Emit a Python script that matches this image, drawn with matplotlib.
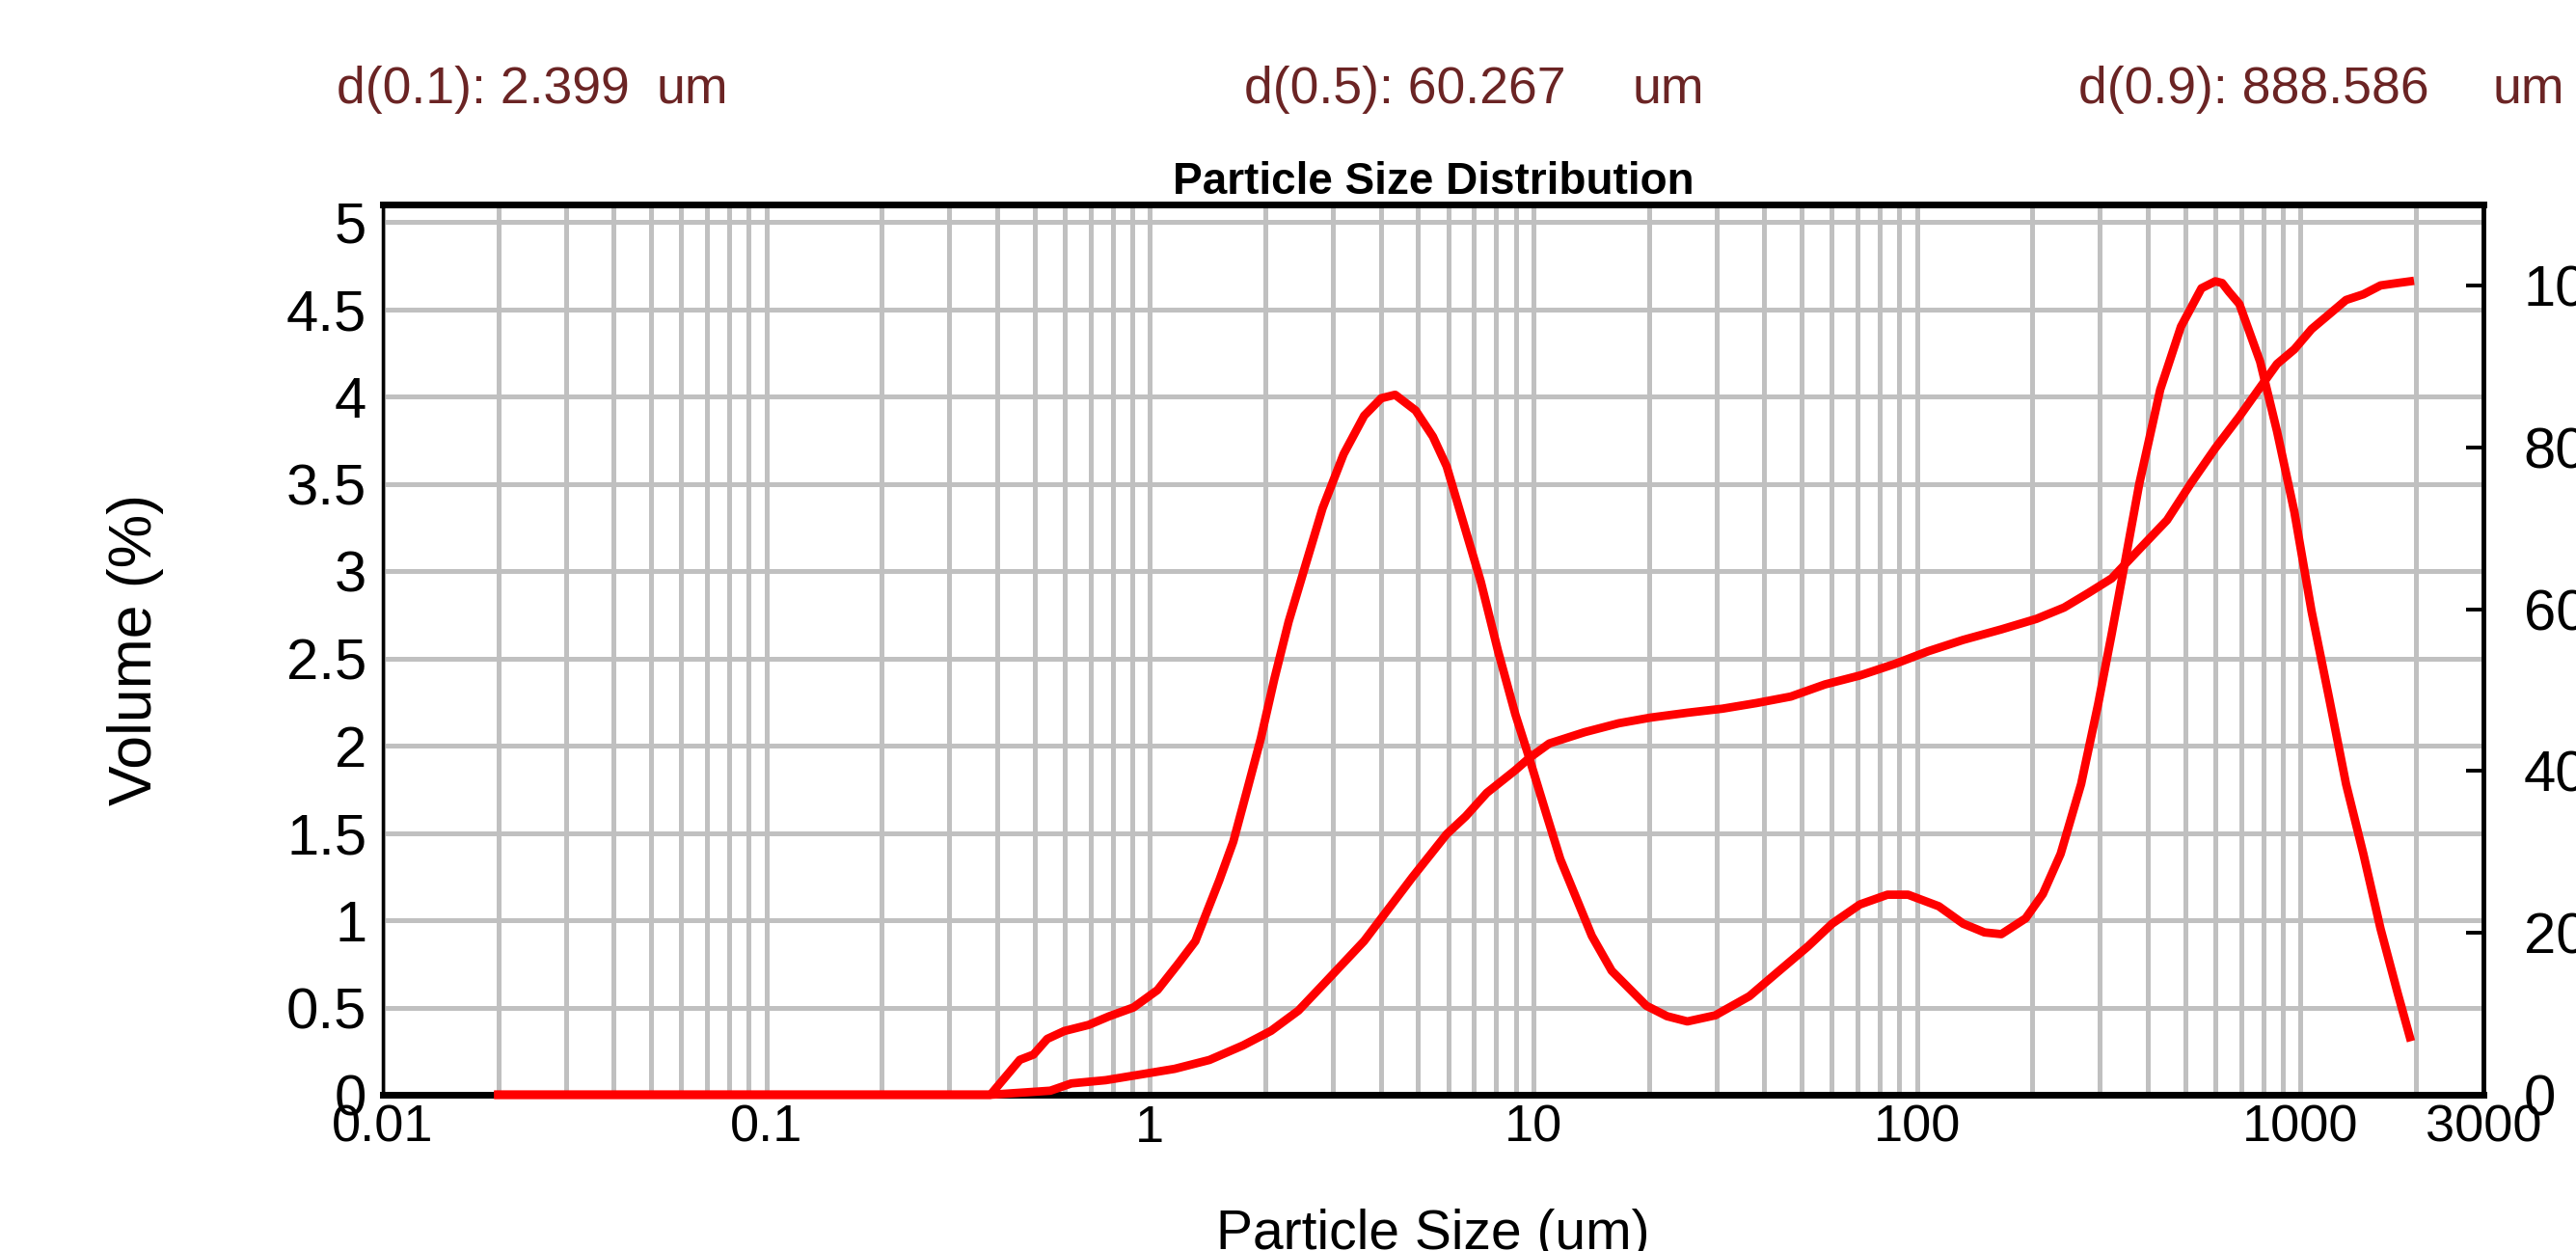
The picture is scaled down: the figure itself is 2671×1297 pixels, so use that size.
import numpy as np
import matplotlib
matplotlib.use("Agg")
import matplotlib.pyplot as plt
from matplotlib.ticker import FixedLocator, LogLocator, NullFormatter, MultipleLocator, FuncFormatter

# values
size_freq = [0.02, 0.384, 0.458, 0.497, 0.54, 0.598, 0.692, 0.784, 0.906, 1.047,
             1.185, 1.314, 1.518, 1.65, 1.79, 1.946, 2.11, 2.30, 2.55, 2.82,
             3.20, 3.62, 4.01, 4.36, 4.93, 5.47, 5.94, 6.58, 7.29, 8.09,
             8.97, 9.75, 10.8, 11.75, 14.2, 16.0, 19.7, 22.3, 25.2, 29.8,
             36.6, 43.2, 52.0, 60.1, 71.0, 83.8, 94.8, 114, 132, 150,
             166, 192, 213, 237, 268, 297, 322, 350, 380, 431,
             488, 552, 600, 625, 651, 693, 785, 869, 964, 1069,
             1186, 1315, 1459, 1618, 1794, 1929]
volume = [0, 0, 0.20, 0.23, 0.32, 0.365, 0.40, 0.45, 0.50, 0.60,
          0.75, 0.88, 1.23, 1.45, 1.74, 2.04, 2.38, 2.71, 3.04, 3.36,
          3.67, 3.89, 3.99, 4.01, 3.92, 3.77, 3.60, 3.27, 2.94, 2.54,
          2.18, 1.93, 1.61, 1.35, 0.91, 0.71, 0.51, 0.45, 0.42, 0.455,
          0.565, 0.70, 0.85, 0.98, 1.09, 1.146, 1.146, 1.08, 0.98, 0.93,
          0.92, 1.01, 1.15, 1.38, 1.78, 2.24, 2.64, 3.07, 3.50, 4.04,
          4.40, 4.62, 4.66, 4.65, 4.60, 4.53, 4.20, 3.80, 3.34, 2.77,
          2.28, 1.78, 1.38, 0.95, 0.58, 0.33]

size_cum = [0.02, 0.384, 0.55, 0.624, 0.767, 0.944, 1.16, 1.43, 1.75, 2.07,
            2.44, 2.88, 3.62, 4.84, 5.94, 6.66, 7.56, 8.97, 9.75, 11.0,
            13.6, 16.7, 20.2, 25.2, 31.1, 38.2, 46.9, 57.6, 71.0, 87.2,
            107, 132, 166, 205, 242, 280, 322, 380, 449, 519,
            600, 693, 785, 869, 964, 1069, 1186, 1315, 1459, 1618,
            1794, 1929]
cumulative = [0, 0, 0.5, 1.4, 1.8, 2.5, 3.2, 4.3, 6.1, 7.9,
              10.4, 14.0, 19.0, 26.9, 32.2, 34.4, 37.3, 40.1, 41.6, 43.4,
              44.8, 45.9, 46.6, 47.2, 47.7, 48.4, 49.2, 50.7, 51.8, 53.2,
              54.8, 56.2, 57.5, 58.8, 60.2, 62.0, 63.8, 67.4, 71.0, 75.6,
              79.9, 83.8, 87.4, 90.3, 92.1, 94.6, 96.4, 98.2, 98.9, 100.0,
              100.3, 100.5]

x_ticks = [0.01, 0.1, 1, 10, 100, 1000, 3000]
x_ticklabels = ["0.01", "0.1", "1", "10", "100", "1000", "3000"]
right_ticks = [0, 20, 40, 60, 80, 100]

d_labels = ["d(0.1): 2.399", "d(0.5): 60.267", "d(0.9): 888.586"]

W, H = 2671, 1297
RED = "#ff0000"
GRID = "#c0c0c0"
MAROON = "#6b2424"

plt.rcParams["font.family"] = ["Liberation Sans", "DejaVu Sans"]

fig = plt.figure(figsize=(W / 100, H / 100), dpi=100)
ax = fig.add_axes([397 / W, 1 - 1135 / H, 2178 / W, 923 / H])

ax.set_xscale("log")
ax.set_xlim(0.01, 3000)
ax.set_ylim(0, 5.1)
ax.xaxis.set_major_locator(FixedLocator(x_ticks))
ax.set_xticklabels(x_ticklabels)
ax.xaxis.set_minor_locator(LogLocator(base=10, subs=np.arange(2, 10), numticks=30))
ax.xaxis.set_minor_formatter(NullFormatter())
ax.yaxis.set_major_locator(MultipleLocator(0.5))
ax.yaxis.set_major_formatter(FuncFormatter(lambda v, _: f"{v:g}"))
ax.grid(True, which="both", color=GRID, lw=3.6)
ax.tick_params(axis="both", which="both", length=0)
ax.tick_params(axis="y", labelsize=43, pad=12)
ax.tick_params(axis="x", labelsize=39, pad=7)

ax.plot(size_freq, volume, color=RED, lw=6.3, zorder=3, clip_on=False)

ax.set_title("Particle Size Distribution", fontsize=33, fontweight="bold", pad=8)
ax.set_ylabel("Volume (%)", fontsize=45)
ax.yaxis.set_label_coords(-0.104, 0.5)
ax.set_xlabel("Particle Size (um)", fontsize=41)
ax.xaxis.set_label_coords(0.5, -0.128)

ax.spines["right"].set_visible(False)
ax.spines["left"].set_linewidth(2.5)
ax.spines["bottom"].set_linewidth(5)
ax.spines["top"].set_linewidth(5)

ax2 = ax.twinx()
ax2.set_ylim(0, 110)
ax2.set_yticks(right_ticks)
ax2.set_yticklabels([str(t) for t in right_ticks])
ax2.tick_params(axis="y", direction="in", length=13, width=2.8, pad=30, labelsize=43)
for side in ("left", "top", "bottom"):
    ax2.spines[side].set_visible(False)
ax2.spines["right"].set_linewidth(3.5)
ax2.plot(size_cum, cumulative, color=RED, lw=6.3, zorder=3, clip_on=False)

# d-values header
for txt, x0 in zip(d_labels, [349, 1290, 2155]):
    fig.text(x0 / W, 1 - 107 / H, txt, color=MAROON, fontsize=38.5,
             va="baseline", ha="left")
for x0 in [680, 1692, 2584]:
    fig.text(x0 / W, 1 - 107 / H, "um", color=MAROON, fontsize=38.5,
             va="baseline", ha="left")

fig.savefig("out.png", dpi=100)
